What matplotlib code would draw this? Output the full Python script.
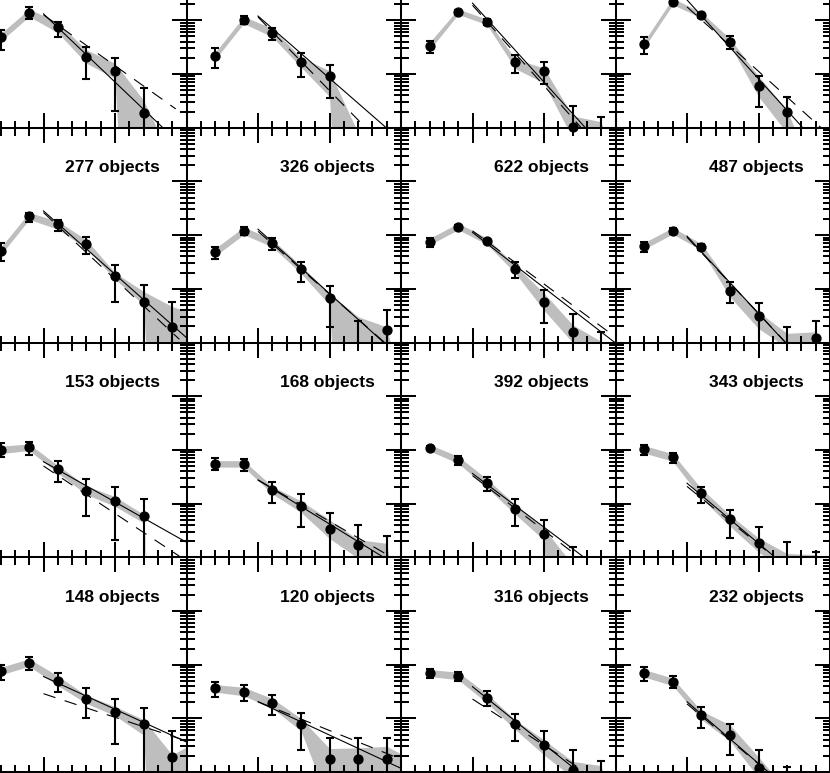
import numpy as np
import matplotlib
matplotlib.use("Agg")
import matplotlib.pyplot as plt
from matplotlib.ticker import MultipleLocator, LogLocator, NullFormatter

plt.rcParams['lines.scale_dashes'] = False

# ---------------- data (log10 of the plotted quantity) ----------------
x_bins = [0.4, 0.8, 1.2, 1.6, 2.0, 2.4, 2.8]
x_band = [0.4, 0.8, 1.2, 1.6, 2.0, 2.4, 2.8, 3.2]

n_objects = [None, None, None, None,
             "277 objects", "326 objects", "622 objects", "487 objects",
             "153 objects", "168 objects", "392 objects", "343 objects",
             "148 objects", "120 objects", "316 objects", "232 objects"]

log_phi = [
    [1.68, 2.14, 1.88, 1.32, 1.05, 0.27, None],
    [1.335, 2.005, 1.77, 1.23, 0.96, None, None],
    [1.52, 2.16, 1.97, 1.22, 1.055, 0.02, None],
    [1.55, 2.35, 2.10, 1.60, 0.78, 0.29, None],
    [1.70, 2.355, 2.20, 1.83, 1.24, 0.75, 0.28],
    [1.68, 2.08, 1.85, 1.36, 0.835, None, 0.23],
    [1.88, 2.16, 1.89, 1.37, 0.76, 0.19, None],
    [1.80, 2.08, 1.78, 0.965, 0.50, None, 0.08],
    [2.00, 2.05, 1.64, 1.24, 1.05, 0.76, None],
    [1.74, 1.74, 1.25, 0.96, 0.53, 0.23, None],
    [2.04, 1.81, 1.39, 0.90, 0.43, None, None],
    [2.01, 1.86, 1.20, 0.71, 0.26, None, None],
    [1.88, 2.04, 1.70, 1.36, 1.125, 0.89, 0.28],
    [1.56, 1.50, 1.29, 0.89, 0.24, 0.24, 0.24],
    [1.85, 1.79, 1.385, 0.895, 0.505, 0.04, None],
    [1.84, 1.68, 1.06, 0.69, 0.07, None, None],
]

log_err_hi = [
    [1.82, 2.24, 1.97, 1.51, 1.30, 0.74, None],
    [1.48, 2.08, 1.85, 1.385, 1.17, None, None],
    [1.62, 2.20, 2.02, 1.35, 1.22, 0.40, 0.19],
    [1.695, 2.40, 2.14, 1.71, 0.96, 0.57, None],
    [1.85, 2.41, 2.28, 1.96, 1.44, 1.08, 0.76],
    [1.78, 2.16, 1.94, 1.505, 1.05, 0.40, 0.605],
    [1.94, 2.19, 1.93, 1.49, 0.98, 0.525, 0.19],
    [1.88, 2.13, 1.84, 1.13, 0.74, 0.28, 0.40],
    [2.12, 2.15, 1.80, 1.45, 1.31, 1.085, None],
    [1.84, 1.83, 1.41, 1.17, 0.83, 0.61, 0.40],
    [2.08, 1.885, 1.50, 1.08, 0.695, 0.20, None],
    [2.09, 1.94, 1.315, 0.89, 0.57, 0.28, 0.10],
    [1.99, 2.15, 1.84, 1.56, 1.37, 1.19, 0.765],
    [1.67, 1.62, 1.435, 1.105, 0.63, 0.63, 0.63],
    [1.915, 1.87, 1.51, 1.09, 0.77, 0.41, 0.21],
    [1.95, 1.795, 1.22, 0.895, 0.41, 0.10, None],
]

log_err_lo = [
    [1.45, 2.02, 1.69, 0.91, 0.32, -1, None],
    [1.12, 1.93, 1.63, 0.95, 0.55, None, None],
    [1.385, 2.12, 1.92, 1.02, 0.81, -1, -1],
    [1.37, 2.30, 2.04, 1.46, 0.39, -1, None],
    [1.52, 2.25, 2.08, 1.64, 0.76, -1, -1],
    [1.555, 2.00, 1.72, 1.13, 0.29, -1, -1],
    [1.78, 2.13, 1.85, 1.21, 0.36, -1, -1],
    [1.68, 2.02, 1.72, 0.73, -1, -1, -1],
    [1.87, 1.905, 1.41, 0.76, 0.32, -1, None],
    [1.625, 1.61, 1.005, 0.57, -1, -1, -1],
    [2.00, 1.72, 1.24, 0.58, -1, -1, None],
    [1.905, 1.76, 1.02, 0.365, -1, -1, -1],
    [1.715, 1.90, 1.50, 1.00, 0.52, -1, -1],
    [1.40, 1.33, 1.06, 0.41, -1, -1, -1],
    [1.76, 1.70, 1.24, 0.585, -1, -1, -1],
    [1.70, 1.56, 0.83, 0.32, -1, -1, None],
]

log_band_hi = [
    [1.75, 2.21, 1.96, 1.45, 1.20, 0.51, -0.6, -2],
    [1.40, 2.07, 1.85, 1.31, 1.06, -0.1, -1, -2],
    [1.59, 2.21, 2.02, 1.28, 1.11, 0.22, 0.11, -2],
    [1.61, 2.41, 2.15, 1.66, 0.96, 0.33, -1, -2],
    [1.77, 2.42, 2.26, 1.91, 1.30, 0.95, 0.67, 0.5],
    [1.75, 2.15, 1.92, 1.43, 0.92, 0.48, 0.29, -2],
    [1.94, 2.22, 1.95, 1.43, 0.92, 0.33, 0.02, -1],
    [1.86, 2.14, 1.84, 1.10, 0.57, 0.17, 0.20, -2],
    [2.07, 2.11, 1.71, 1.33, 1.13, 0.80, -9, -9],
    [1.80, 1.80, 1.32, 1.05, 0.70, 0.33, 0.26, -3],
    [2.10, 1.88, 1.46, 0.98, 0.54, -0.14, -1, -2],
    [2.08, 1.93, 1.28, 0.79, 0.36, 0.07, 0.05, -2],
    [1.95, 2.11, 1.79, 1.43, 1.22, 0.98, 0.32, 0.62],
    [1.63, 1.58, 1.37, 1.00, 0.44, 0.45, 0.48, 0.2],
    [1.91, 1.86, 1.46, 0.97, 0.60, 0.20, 0.12, -2],
    [1.91, 1.75, 1.14, 0.88, 0.28, -0.34, -2, -3],
]

log_band_lo = [
    [1.61, 2.07, 1.77, 1.20, 0.92, -9, -9, -9],
    [1.27, 1.94, 1.69, 1.13, 0.58, -9, -9, -9],
    [1.45, 2.11, 1.92, 1.10, 0.83, -0.2, -0.5, -2],
    [1.49, 2.29, 2.05, 1.54, 0.58, -0.1, -2, -3],
    [1.63, 2.29, 2.11, 1.75, 1.18, 0.70, -9, -9],
    [1.61, 2.01, 1.78, 1.29, 0.70, -9, -9, -9],
    [1.82, 2.10, 1.83, 1.29, 0.60, 0.0, -0.5, -2],
    [1.74, 2.02, 1.72, 0.85, 0.26, -0.1, -0.1, -3],
    [1.93, 1.99, 1.57, 1.17, 0.95, 0.64, -9, -9],
    [1.68, 1.68, 1.18, 0.84, 0.35, -0.02, -0.05, -3],
    [1.98, 1.75, 1.30, 0.80, 0.32, -9, -9, -9],
    [1.94, 1.79, 1.10, 0.58, 0.10, -0.3, -0.3, -3],
    [1.81, 1.97, 1.61, 1.28, 1.05, 0.69, -9, -9],
    [1.49, 1.42, 1.19, 0.77, -0.6, -0.6, -0.6, -0.6],
    [1.78, 1.72, 1.29, 0.79, 0.32, -0.1, -0.3, -3],
    [1.77, 1.61, 0.98, 0.58, -0.1, -2, -3, -3],
]

# straight-line fits: [x_start, log_y_start, x_end, log_y_end]
fit_solid = [
    [1.0, 2.12, 3.0, -0.42], [1.0, 2.08, 3.0, -0.24], [1.0, 2.32, 3.0, -0.62], [1.0, 2.38, 3.0, -0.56],
    [1.0, 2.45, 3.0, 0.09], [1.0, 2.11, 3.0, -0.29], [1.0, 2.05, 3.0, -0.01], [1.0, 1.98, 3.0, -0.90],
    [1.0, 1.78, 3.0, 0.28], [1.0, 1.44, 3.0, -0.20], [1.0, 1.56, 3.0, -0.44], [1.0, 1.38, 3.0, -0.86],
    [1.0, 1.78, 3.0, 0.56], [1.0, 1.31, 3.0, 0.07], [1.0, 1.59, 3.0, -0.55], [1.0, 1.31, 3.0, -0.99],
]
fit_dashed = [
    [1.0, 2.10, 2.85, 0.35], [1.0, 2.06, 2.6, -0.13], [1.0, 2.28, 3.0, -0.72], [1.0, 2.25, 3.0, -0.15],
    [1.0, 2.42, 2.9, 0.06], [1.0, 2.07, 2.9, -0.15], [1.0, 2.08, 3.0, 0.10], [1.0, 1.96, 3.0, -0.88],
    [1.0, 1.70, 2.9, 0.02], [1.0, 1.44, 3.0, -0.10], [1.0, 1.52, 3.0, -0.52], [1.0, 1.32, 3.0, -0.84],
    [1.0, 1.46, 3.0, 0.58], [1.0, 1.31, 3.0, 0.24], [1.0, 1.36, 3.0, -0.36], [1.0, 1.27, 3.0, -0.97],
]

# ---------------- layout ----------------
W, H = 830, 773
PW, PH = 214.5, 214.8
X0, Y0 = -28.0, 127.7   # left edge of column 1, bottom of row 1 (pixels)

fig = plt.figure(figsize=(W / 100, H / 100), dpi=100)
fig.patch.set_facecolor("white")

band_color = "#bebebe"
xb = np.array(x_bins)
xband = np.array(x_band)

for k in range(16):
    r, c = divmod(k, 4)
    left = (X0 + PW * c) / W
    bottom = (H - (Y0 + PH * r)) / H
    ax = fig.add_axes([left, bottom, PW / W, PH / H])
    ax.set_facecolor("none")
    ax.set_xlim(0, 3)
    ax.set_yscale("log")
    ax.set_ylim(1, 1e4)

    ax.xaxis.set_major_locator(MultipleLocator(1))
    ax.xaxis.set_minor_locator(MultipleLocator(0.2))
    ax.yaxis.set_major_locator(LogLocator(base=10, numticks=10))
    ax.yaxis.set_minor_locator(LogLocator(base=10, subs=np.arange(2, 10), numticks=30))
    ax.xaxis.set_major_formatter(NullFormatter())
    ax.xaxis.set_minor_formatter(NullFormatter())
    ax.yaxis.set_major_formatter(NullFormatter())
    ax.yaxis.set_minor_formatter(NullFormatter())
    ax.tick_params(which="both", direction="in", top=True, right=True,
                   labelbottom=False, labelleft=False, width=1.45, color="black")
    ax.tick_params(which="major", length=10.8)
    ax.tick_params(which="minor", length=5.4)
    for s in ax.spines.values():
        s.set_linewidth(1.45)

    # shaded band
    bh = 10 ** np.array(log_band_hi[k], dtype=float)
    bl = 10 ** np.array(log_band_lo[k], dtype=float)
    ax.fill_between(xband, bl, bh, color=band_color, lw=0, zorder=1)

    # fit lines
    xs0, ys0, xs1, ys1 = fit_solid[k]
    ax.plot([xs0, xs1], [10 ** ys0, 10 ** ys1], color="black", lw=0.8, zorder=2)
    xd0, yd0, xd1, yd1 = fit_dashed[k]
    ax.plot([xd0, xd1], [10 ** yd0, 10 ** yd1], color="black", lw=0.8,
            ls=(0, (9, 7)), zorder=2)

    # points with error bars
    yv = np.array(log_phi[k], dtype=float)
    eh = np.array(log_err_hi[k], dtype=float)
    el = np.array(log_err_lo[k], dtype=float)
    for i in range(len(xb)):
        if np.isnan(eh[i]):
            continue
        if np.isnan(yv[i]):
            yc = 10 ** eh[i]
            lo = yc - 10 ** el[i]
            hi = 0.0
        else:
            yc = 10 ** yv[i]
            lo = yc - 10 ** el[i]
            hi = 10 ** eh[i] - yc
        ax.errorbar([xb[i]], [yc], yerr=[[lo], [hi]], fmt="none", ecolor="black",
                    elinewidth=1.5, capsize=3.0, capthick=1.5, zorder=3)
    m = ~np.isnan(yv)
    ax.plot(xb[m], 10 ** yv[m], "o", ms=6.4, color="black", clip_on=False, zorder=4)

    if n_objects[k]:
        ax.text(0.8765, 0.792, n_objects[k], transform=ax.transAxes, ha="right",
                va="baseline", fontsize=12.5, fontweight="bold",
                family=["Liberation Sans", "DejaVu Sans"], color="black")

fig.savefig("out.png", dpi=100)
